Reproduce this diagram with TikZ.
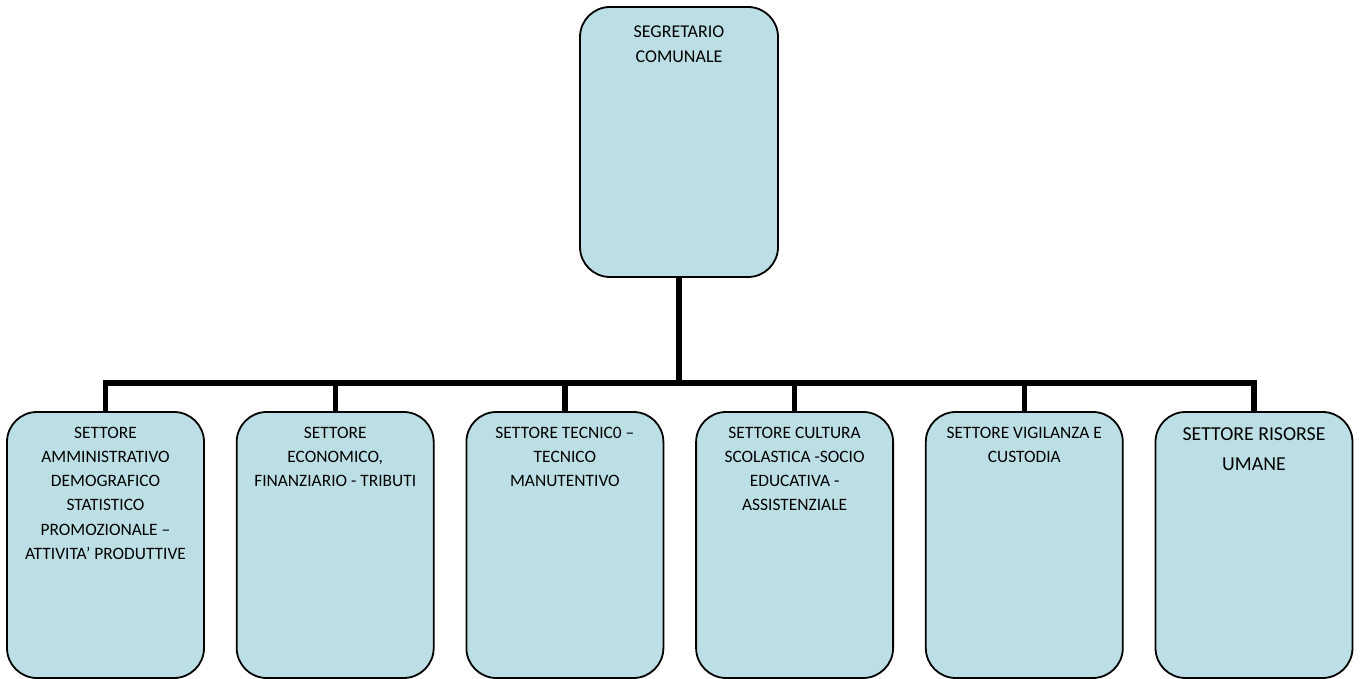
\documentclass[tikz,border=0pt]{standalone}
\usepackage{fontspec}
\setmainfont{Carlito}
\usetikzlibrary{positioning}
\definecolor{boxblue}{RGB}{188,223,229}

\begin{document}
\begin{tikzpicture}[x=0.5pt,y=-0.5pt,node distance=15.45pt,
  main node/.style={rectangle,rounded corners=15pt,draw,line width=0.9pt,
  fill=boxblue},
  top node/.style={main node,minimum width=99pt,minimum height=135pt},
  sector node/.style={main node,minimum width=98.5pt,minimum height=133pt},
  text node/.style={anchor=north,align=center,inner sep=0pt,
  font=\fontsize{8.7}{12.1}\selectfont},
  bus line/.style={line width=2.7pt}]

  \useasboundingbox (0,0) rectangle (1361,679);

  %Head of the organisation
  \node[top node] (SC) at (679,142) {};

  %The six sectors, left to right
  \node[sector node] (SA) at (105.5,545) {};
  \node[sector node] (SE) [right=of SA] {};
  \node[sector node] (ST) [right=of SE] {};
  \node[sector node] (SCS) [right=of ST] {};
  \node[sector node] (SV) [right=of SCS] {};
  \node[sector node] (SR) [right=of SV] {};

  %Texts at the top of each box
  \node[text node,font=\fontsize{9}{12.5}\selectfont] (SCt) [below=9.5pt of SC.north]
    {SEGRETARIO\\COMUNALE};
  \node[text node] (SAt) [below=7.75pt of SA.north]
    {SETTORE\\AMMINISTRATIVO\\DEMOGRAFICO\\STATISTICO\\PROMOZIONALE –\\ATTIVITA’ PRODUTTIVE};
  \node[text node] (SEt) [below=7.75pt of SE.north]
    {SETTORE\\ECONOMICO,\\FINANZIARIO - TRIBUTI};
  \node[text node] (STt) [below=7.75pt of ST.north]
    {SETTORE TECNIC0 –\\TECNICO\\MANUTENTIVO};
  \node[text node] (SCSt) [below=7.75pt of SCS.north]
    {SETTORE CULTURA\\SCOLASTICA -SOCIO\\EDUCATIVA -\\ASSISTENZIALE};
  \node[text node] (SVt) [below=7.75pt of SV.north]
    {SETTORE VIGILANZA E\\CUSTODIA};
  \node[text node,font=\fontsize{9.9}{15}\selectfont] (SRt) [below=8.3pt of SR.north]
    {SETTORE RISORSE\\UMANE};

  %Bus from the head down to every sector
  \coordinate (bus) at (679,383);
  \foreach \s in {SA,SE,ST,SCS,SV,SR}
    \draw[bus line] (SC.south) -- (bus) -| (\s.north);

\end{tikzpicture}
\end{document}
